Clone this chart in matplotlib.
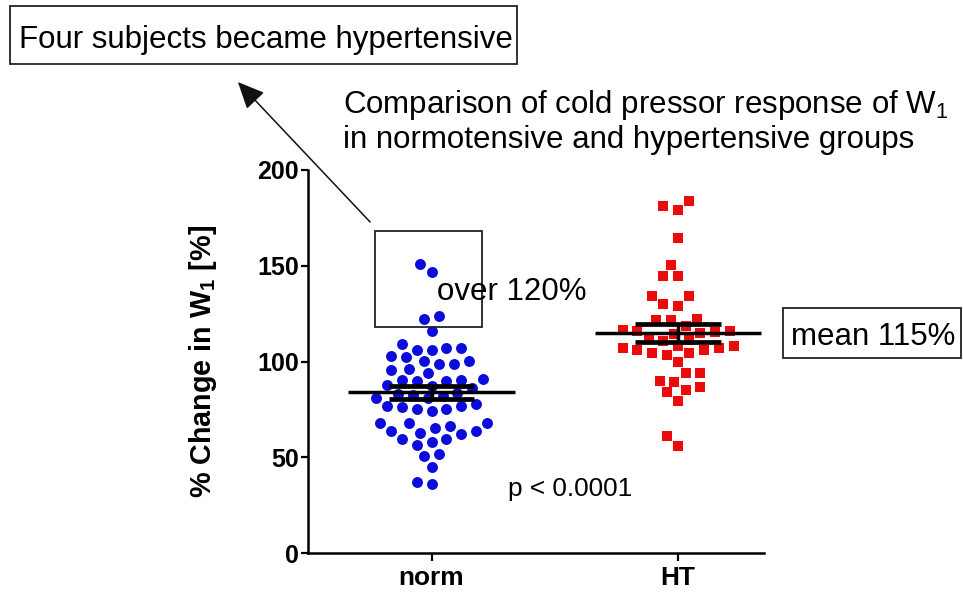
import matplotlib
matplotlib.use('Agg')
import matplotlib.pyplot as plt
from matplotlib import font_manager
from matplotlib.patches import Rectangle, FancyArrowPatch
import numpy as np

# values
groups = ['norm', 'HT']
norm_vals = [151, 147, 124, 122, 116,
             109, 107, 106, 106, 107,
             103, 100.5, 100.5, 102.5,
             99, 95.5, 96, 99,
             94, 90.5, 90, 88, 87.5, 90, 90.5, 91, 86,
             83.5, 81, 82, 82.5, 83, 81,
             75.5, 77, 76.5, 77, 78, 74.5, 75.5,
             68, 68, 66.5, 68,
             65.5, 64, 62.5, 63, 64,
             59.5, 59.5, 56.5, 58,
             51, 52, 45, 36, 37]
ht_vals = [184, 181, 179, 164.5, 150.5, 144.5, 144.5, 134.5, 134, 129, 130,
           121.5, 121.5, 122.5, 118.5,
           116, 115, 116.5, 114.5, 115.5, 116,
           111, 112, 111.5,
           108, 107, 106, 104.5, 103.5, 104.5, 106, 107, 108,
           100,
           94, 94, 89.5, 87, 90, 84, 85, 79.5, 61, 56]
means = [84, 115]
sems = [3.3, 4.7]
y_ticks = [0, 50, 100, 150, 200]

names = {f.name for f in font_manager.fontManager.ttflist}
if 'Liberation Sans Narrow' in names:
    fam, k = 'Liberation Sans Narrow', 1.0
else:
    fam, k = 'Liberation Sans', 0.9
plt.rcParams['font.family'] = [fam, 'DejaVu Sans']
plt.rcParams['mathtext.fontset'] = 'custom'
plt.rcParams['mathtext.rm'] = fam

W, H = 963, 595
fig = plt.figure(figsize=(W / 100, H / 100), dpi=100)
ax = fig.add_axes([0.3201, 0.0701, 0.4737, 0.6442])
ax.set_xlim(-0.5, 1.35)
ax.set_ylim(0, 200)


def swarm(vals, xc, diam=12.8, step=3.7):
    # simple beeswarm in pixel space
    tr = ax.transData
    placed = []
    out = np.zeros(len(vals))
    for i in np.argsort(vals):
        px0, py = tr.transform((xc, vals[i]))
        best = 0.0
        for n in range(0, 60):
            hit = None
            for sgn in ([1] if n == 0 else [-1, 1]):
                off = sgn * n * step
                if all((px0 + off - qx) ** 2 + (py - qy) ** 2 >= diam ** 2 for qx, qy in placed):
                    hit = off
                    break
            if hit is not None:
                best = hit
                break
        placed.append((px0 + best, py))
        out[i] = tr.inverted().transform((px0 + best, py))[0]
    return out


nx = swarm(norm_vals, 0)
hx = swarm(ht_vals, 1)
ax.scatter(nx, norm_vals, s=62, marker='o', color='#0b0bdc', linewidths=0, zorder=3)
ax.scatter(hx, ht_vals, s=62, marker='s', color='#ec0a0a', linewidths=0, zorder=3)

xs = np.arange(len(groups))
means = np.array(means)
sems = np.array(sems)
ax.hlines(means, xs - 0.337, xs + 0.337, color='black', lw=2.5, zorder=4)
ax.hlines(means + sems, xs - 0.173, xs + 0.173, color='black', lw=3.4, zorder=4)
ax.hlines(means - sems, xs - 0.173, xs + 0.173, color='black', lw=3.4, zorder=4)
ax.vlines(xs, means - sems, means + sems, color='black', lw=2.5, zorder=4)

for s in ['top', 'right']:
    ax.spines[s].set_visible(False)
for s in ['left', 'bottom']:
    ax.spines[s].set_linewidth(1.8)
ax.set_xticks(xs)
ax.set_xticklabels(groups, fontsize=21 * k, fontweight='bold')
ax.set_yticks(y_ticks)
ax.set_yticklabels([str(v) for v in y_ticks], fontsize=20 * k, fontweight='bold')
ax.tick_params(axis='y', length=5, width=1.6, pad=1.5)
ax.tick_params(axis='x', length=6, width=1.6, pad=3)
ax.set_ylabel(r'% Change in W$_{\mathregular{1}}$ [%]', fontsize=23 * k, fontweight='bold')
ax.yaxis.set_label_coords(-0.196, 0.5)


def fp(x, y):
    # reference pixel -> figure fraction
    return x / W, 1 - y / H


# annotations
fig.text(*fp(343, 113), r'Comparison of cold pressor response of W$_{\mathregular{1}}$',
         fontsize=25 * k, va='baseline', ha='left')
fig.text(*fp(343, 148), 'in normotensive and hypertensive groups',
         fontsize=25 * k, va='baseline', ha='left')

fig.patches.append(Rectangle(fp(10, 64), 507 / W, 58 / H, transform=fig.transFigure,
                             fill=False, edgecolor='#222222', lw=1.3))
fig.text(*fp(19, 48), 'Four subjects became hypertensive', fontsize=25 * k,
         va='baseline', ha='left')

fig.patches.append(Rectangle(fp(375, 327), 107 / W, 96 / H, transform=fig.transFigure,
                             fill=False, edgecolor='#222222', lw=1.3))
fig.text(*fp(437, 300), 'over 120%', fontsize=25 * k, va='baseline', ha='left')

fig.patches.append(FancyArrowPatch(fp(372, 224), fp(236, 80), transform=fig.transFigure,
                                   arrowstyle='-|>,head_length=11,head_width=5',
                                   color='#111111', lw=1.1, mutation_scale=1.5))

fig.patches.append(Rectangle(fp(783, 358), 178 / W, 50 / H, transform=fig.transFigure,
                             fill=False, edgecolor='#222222', lw=1.3))
fig.text(*fp(791, 345), 'mean 115%', fontsize=25 * k, va='baseline', ha='left')

fig.text(*fp(508, 496), 'p < 0.0001', fontsize=21 * k, va='baseline', ha='left')

fig.savefig('out.png', dpi=100)
